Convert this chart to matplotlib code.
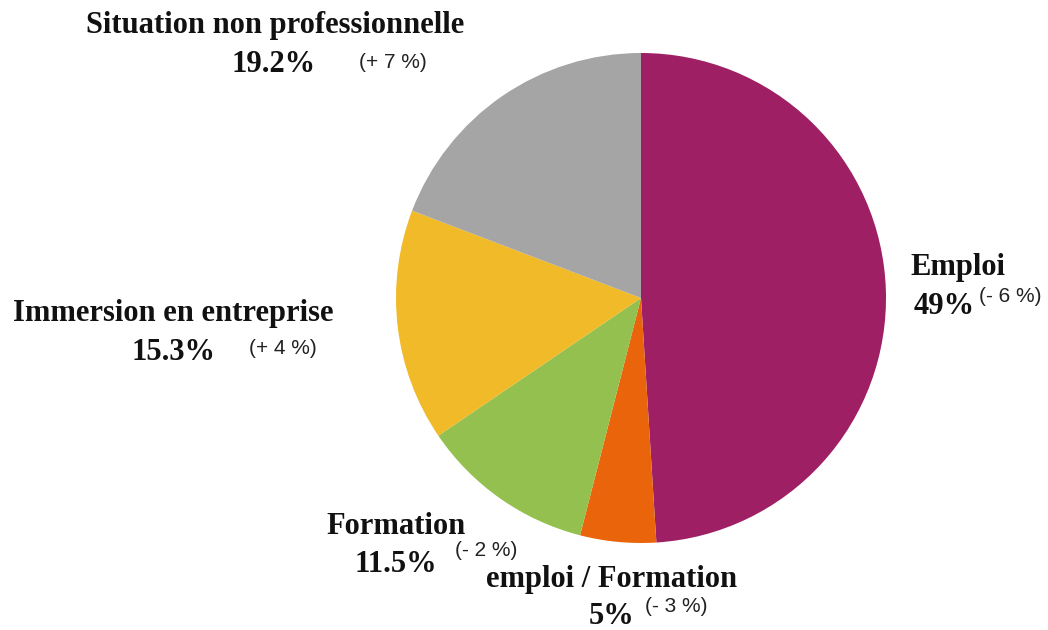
import matplotlib
matplotlib.use("Agg")
import matplotlib.pyplot as plt

categories = ["Emploi", "emploi / Formation", "Formation", "Immersion en entreprise", "Situation non professionnelle"]
values = [49, 5, 11.5, 15.3, 19.2]
pct_labels = ["49%", "5%", "11.5%", "15.3%", "19.2%"]
changes = ["(- 6 %)", "(- 3 %)", "(- 2 %)", "(+ 4 %)", "(+ 7 %)"]
colors = ["#9E1F63", "#EA640C", "#93C04E", "#F0BA28", "#A5A5A5"]

W, H = 1048, 630
fig = plt.figure(figsize=(W / 100, H / 100), dpi=100)
cx, cy, r = 641, 298, 245
ax = fig.add_axes([(cx - r) / W, (H - cy - r) / H, 2 * r / W, 2 * r / H])
ax.pie(values, colors=colors, startangle=90, counterclock=False, radius=1,
       wedgeprops=dict(linewidth=0))
ax.set_xlim(-1, 1)
ax.set_ylim(-1, 1)
ax.set_aspect("equal")
ax.axis("off")

# label positions in pixels (name center, pct center, change center)
name_pos = [(958, 268), (612, 580), (396, 526), (173, 313), (275, 25)]
pct_pos = [(944, 306), (612, 617), (396, 564), (173, 352), (274, 65)]
chg_pos = [(1010, 297), (676, 607), (486, 550), (283, 348), (393, 62)]

serif = dict(family="Liberation Serif", weight="bold", fontsize=22, color="#111111")
sans = dict(family="Liberation Sans", fontsize=15, color="#222222")

def P(x, y):
    return x / W, 1 - y / H

for i in range(len(categories)):
    fig.text(*P(*name_pos[i]), categories[i], ha="center", va="center", **serif)
    fig.text(*P(*pct_pos[i]), pct_labels[i], ha="center", va="center", **serif)
    fig.text(*P(*chg_pos[i]), changes[i], ha="center", va="center", **sans)

fig.savefig("out.png", dpi=100)
